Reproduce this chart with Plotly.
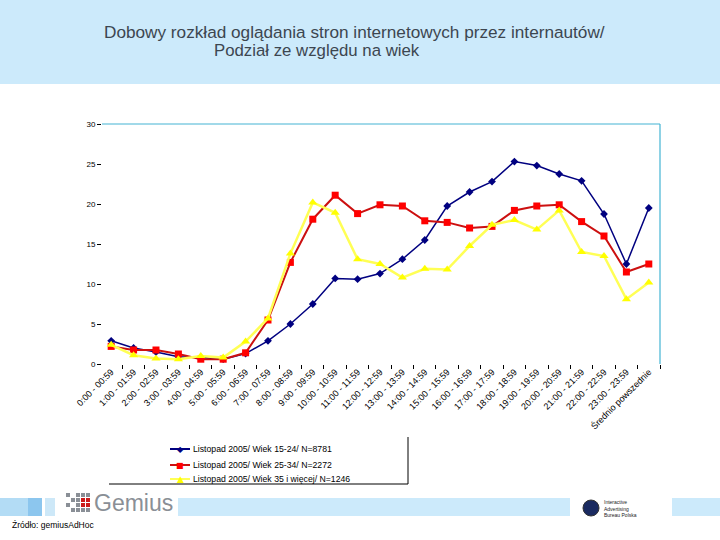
import plotly.graph_objects as go

categories = ["0:00 - 00:59", "1:00 - 01:59", "2:00 - 02:59", "3:00 - 03:59", "4:00 - 04:59",
              "5:00 - 05:59", "6:00 - 06:59", "7:00 - 07:59", "8:00 - 08:59", "9:00 - 09:59",
              "10:00 - 10:59", "11:00 - 11:59", "12:00 - 12:59", "13:00 - 13:59", "14:00 - 14:59",
              "15:00 - 15:59", "16:00 - 16:59", "17:00 - 17:59", "18:00 - 18:59", "19:00 - 19:59",
              "20:00 - 20:59", "21:00 - 21:59", "22:00 - 22:59", "23:00 - 23:59", "Średnio powszednie"]

age_15_24 = [2.9, 2.0, 1.5, 0.9, 0.8, 0.6, 1.3, 2.9, 5.0, 7.5, 10.7, 10.6, 11.3, 13.1, 15.5,
             19.75, 21.5, 22.8, 25.3, 24.8, 23.75, 22.9, 18.75, 12.5, 19.5]
age_25_34 = [2.2, 1.75, 1.75, 1.25, 0.6, 0.6, 1.4, 5.5, 12.7, 18.1, 21.1, 18.8, 19.9, 19.75, 17.9,
             17.7, 17.0, 17.2, 19.2, 19.75, 19.9, 17.8, 16.0, 11.5, 12.5]
age_35_plus = [2.4, 1.1, 0.7, 0.6, 1.0, 0.8, 2.8, 5.7, 13.8, 20.2, 18.9, 13.1, 12.5, 10.8, 11.9,
               11.8, 14.75, 17.4, 18.0, 16.8, 19.2, 14.0, 13.5, 8.1, 10.2]

series_names = ["Listopad 2005/ Wiek 15-24/ N=8781",
                "Listopad 2005/ Wiek 25-34/ N=2272",
                "Listopad 2005/ Wiek 35 i więcej/ N=1246"]
series_colors = ["#000080", "#ff0000", "#ffff00"]
series_line_colors = ["#000080", "#cc1010", "#ffff55"]
series_symbols = ["diamond", "square", "triangle-up"]
legend_glyphs = ["◆", "■", "▲"]

title_line1 = "Dobowy rozkład oglądania stron internetowych przez internautów/"
title_line2 = "Podział ze względu na wiek"
source_text = "Źródło: gemiusAdHoc"

W, H = 720, 540
L, R, T, B = 102, 660, 124, 364


def px(x):
    return (x - L) / (R - L)


def py(y):
    return (B - y) / (B - T)


fig = go.Figure()
for vals, name, c, lc, sym, sz, lw in zip([age_15_24, age_25_34, age_35_plus], series_names,
                                         series_colors, series_line_colors, series_symbols,
                                         [6, 7, 8], [1.5, 2, 2.5]):
    fig.add_trace(go.Scatter(x=categories, y=vals, name=name, mode="lines+markers",
                             line=dict(color=lc, width=lw),
                             marker=dict(symbol=sym, size=sz, color=c)))

shapes = []
# top band
shapes.append(dict(type="rect", xref="paper", yref="paper", x0=px(0), x1=px(720), y0=py(0), y1=py(84),
                   fillcolor="#cceafb", line=dict(width=0), layer="below"))
# bottom band segments
for x0, x1, c in [(0, 28, "#b3dcf5"), (28, 42, "#8cc6ee"), (45, 55, "#cde8f8"),
                  (178, 570, "#cceafb"), (672, 720, "#cceafb")]:
    shapes.append(dict(type="rect", xref="paper", yref="paper", x0=px(x0), x1=px(x1), y0=py(498), y1=py(516),
                       fillcolor=c, line=dict(width=0), layer="below"))
# plot border top/right
shapes.append(dict(type="line", xref="paper", yref="paper", x0=0, x1=1, y0=1, y1=1,
                   line=dict(color="#44b4d4", width=1.2)))
shapes.append(dict(type="line", xref="paper", yref="paper", x0=1, x1=1, y0=0, y1=1,
                   line=dict(color="#44b4d4", width=1.2)))
# legend box lines
shapes.append(dict(type="line", xref="paper", yref="paper", x0=px(408), x1=px(408), y0=py(437), y1=py(484),
                   line=dict(color="black", width=1)))
shapes.append(dict(type="line", xref="paper", yref="paper", x0=px(109), x1=px(408), y0=py(484), y1=py(484),
                   line=dict(color="black", width=1)))
# Gemius logo squares
for i in range(5):
    for j in range(4):
        cx = 66 + i * 5
        cy = 493 + j * 5
        col = "#cc1a1a" if (i in (3, 4) and j in (1, 2)) else "#8a8f96"
        if (i + j) % 2 == 0 or col != "#8a8f96" or i >= 2:
            shapes.append(dict(type="rect", xref="paper", yref="paper", x0=px(cx), x1=px(cx + 4),
                               y0=py(cy), y1=py(cy + 4), fillcolor=col, line=dict(width=0)))
# IAB circle
shapes.append(dict(type="circle", xref="paper", yref="paper", x0=px(583), x1=px(599), y0=py(500), y1=py(516),
                   fillcolor="#1a2a60", line=dict(color="#333", width=1)))

annotations = [
    dict(text=title_line1, x=px(354), y=py(32), xref="paper", yref="paper", showarrow=False,
         font=dict(family="Arial", size=17.2, color="#3c4650"), xanchor="center", yanchor="middle"),
    dict(text=title_line2, x=px(317), y=py(50), xref="paper", yref="paper", showarrow=False,
         font=dict(family="Arial", size=16.8, color="#3c4650"), xanchor="center", yanchor="middle"),
    dict(text=source_text, x=px(10), y=py(525), xref="paper", yref="paper", showarrow=False,
         font=dict(family="Arial", size=8.5, color="black"), xanchor="left", yanchor="middle"),
    dict(text="Gemius", x=px(92), y=py(503), xref="paper", yref="paper", showarrow=False,
         font=dict(family="Arial", size=23, color="#8a8f96"), xanchor="left", yanchor="middle"),
    dict(text="Interactive<br>Advertising<br>Bureau Polska", x=px(602), y=py(508), xref="paper", yref="paper",
         showarrow=False, align="left",
         font=dict(family="Arial", size=5, color="#222"), xanchor="left", yanchor="middle"),
]

# manual legend
legend_rows = [449, 465, 479]
for name, c, lc, g, yy, gs in zip(series_names, series_colors, series_line_colors, legend_glyphs,
                                  legend_rows, [8, 8, 9]):
    shapes.append(dict(type="line", xref="paper", yref="paper", x0=px(170), x1=px(190), y0=py(yy), y1=py(yy),
                       line=dict(color=lc, width=2)))
    annotations.append(dict(text=g, x=px(180), y=py(yy), xref="paper", yref="paper", showarrow=False,
                            font=dict(family="DejaVu Sans", size=gs, color=c),
                            xanchor="center", yanchor="middle"))
    annotations.append(dict(text=name, x=px(191), y=py(yy), xref="paper", yref="paper", showarrow=False,
                            font=dict(family="Arial", size=8.7, color="black"),
                            xanchor="left", yanchor="middle"))

fig.update_layout(
    width=W, height=H,
    margin=dict(l=L, r=W - R, t=T, b=H - B),
    paper_bgcolor="white", plot_bgcolor="white",
    showlegend=False,
    shapes=shapes,
    annotations=annotations,
    xaxis=dict(type="category", range=[-0.41, 24.5], showgrid=False, showline=False, zeroline=False,
               ticks="outside", tickson="boundaries", ticklen=4, tickcolor="black",
               tickangle=-45, tickfont=dict(family="Arial", size=9, color="black")),
    yaxis=dict(range=[0, 30], tickvals=[0, 5, 10, 15, 20, 25, 30], showgrid=False, showline=False,
               zeroline=False, ticks="outside", ticklen=4, tickcolor="black",
               tickfont=dict(family="Arial", size=8, color="black")),
)

fig.write_html("out.html", config={"displayModeBar": False},
               post_script="document.body.style.margin='0';document.body.style.padding='0';")
